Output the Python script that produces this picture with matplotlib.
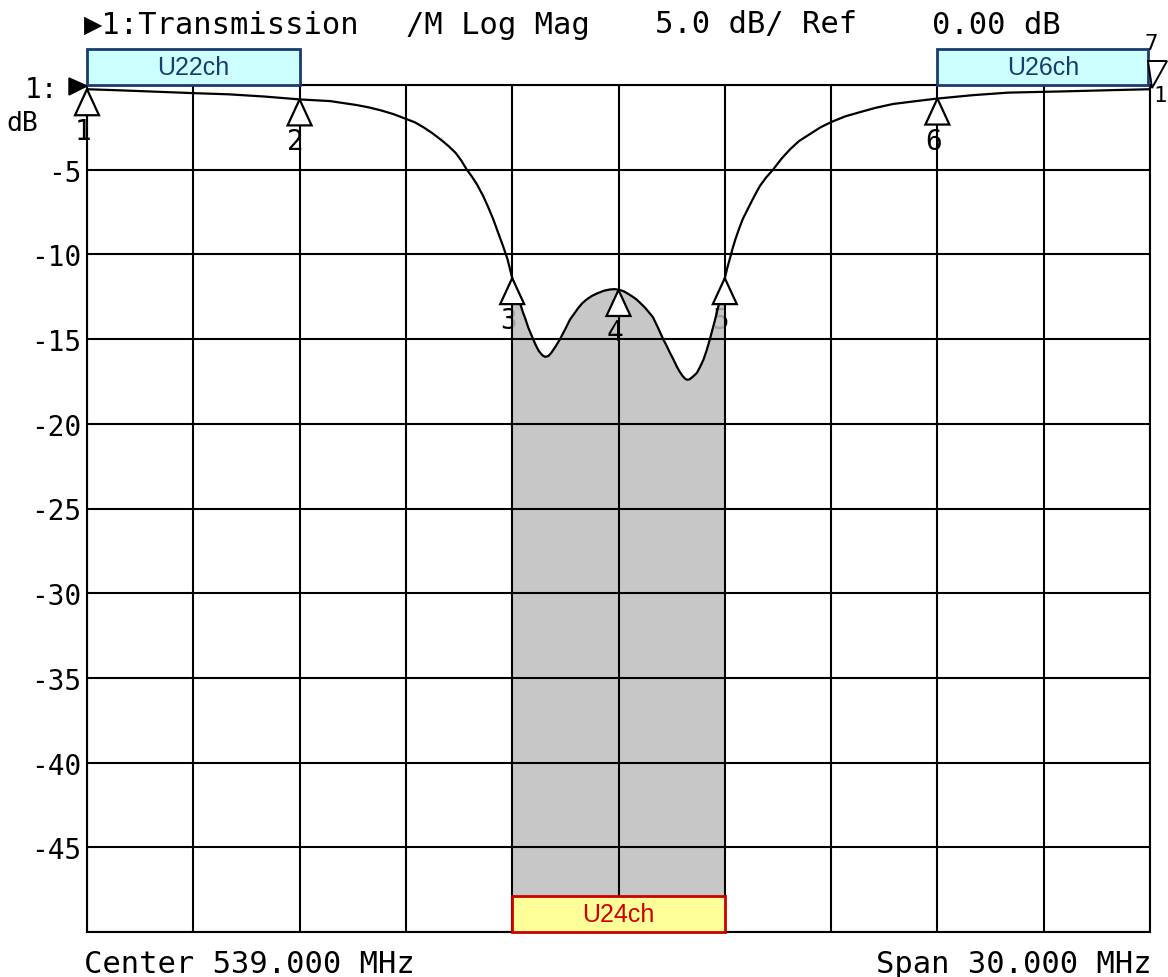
import numpy as np
import matplotlib
matplotlib.use("Agg")
import matplotlib.pyplot as plt
from matplotlib.patches import Rectangle, Polygon

# ---- data ----
freq_mhz = [524.0, 525.0, 526.0, 527.0, 528.0, 529.0, 530.0, 530.86, 531.6, 531.95,
            532.3, 532.65, 533.0, 533.25, 533.5, 533.75, 534.0, 534.2, 534.4, 534.56,
            534.72, 534.86, 535.0, 535.18, 535.32, 535.46, 535.6, 535.74, 535.87, 536.0,
            536.09, 536.17, 536.24, 536.30, 536.38, 536.45, 536.52, 536.59, 536.67, 536.75,
            536.85, 536.93, 537.02, 537.1, 537.22, 537.35, 537.5, 537.63, 537.75, 537.85,
            537.97, 538.10, 538.25, 538.4, 538.58, 538.76, 538.9, 539.04, 539.15, 539.25,
            539.38, 539.51, 539.63, 539.75, 539.86, 539.97, 540.12, 540.26, 540.36, 540.45,
            540.55, 540.64, 540.72, 540.8, 540.87, 540.93, 541.0, 541.05, 541.12, 541.21,
            541.3, 541.4, 541.49, 541.58, 541.65, 541.72, 541.79, 541.86, 541.93, 542.0,
            542.07, 542.15, 542.22, 542.3, 542.4, 542.51, 542.63, 542.75, 542.87, 542.99,
            543.17, 543.36, 543.6, 543.84, 544.1, 544.40, 544.7, 545.02, 545.4, 545.82,
            546.25, 546.75, 547.4, 548.0, 549.0, 550.0, 551.5, 553.0, 554.0]
trans_db = [-0.25, -0.32, -0.40, -0.48, -0.55, -0.68, -0.85, -0.95, -1.18, -1.32,
            -1.5, -1.72, -2.0, -2.2, -2.5, -2.85, -3.25, -3.6, -4.0, -4.45,
            -5.0, -5.4, -5.85, -6.55, -7.2, -7.9, -8.7, -9.5, -10.3, -11.4,
            -12.0, -12.55, -13.0, -13.4, -13.85, -14.3, -14.65, -15.0, -15.38, -15.7,
            -15.95, -16.05, -16.0, -15.82, -15.45, -15.0, -14.4, -13.85, -13.5, -13.2,
            -12.9, -12.66, -12.45, -12.3, -12.15, -12.07, -12.05, -12.1, -12.18, -12.3,
            -12.47, -12.66, -12.9, -13.15, -13.42, -13.7, -14.35, -15.0, -15.4, -15.8,
            -16.2, -16.6, -16.9, -17.15, -17.32, -17.4, -17.38, -17.3, -17.18, -17.0,
            -16.65, -16.2, -15.65, -15.0, -14.45, -13.9, -13.3, -12.7, -12.05, -11.4,
            -10.8, -10.2, -9.65, -9.1, -8.5, -7.9, -7.4, -6.9, -6.42, -5.96,
            -5.45, -5.0, -4.35, -3.8, -3.3, -2.9, -2.5, -2.17, -1.85, -1.6,
            -1.35, -1.12, -0.95, -0.8, -0.6, -0.45, -0.38, -0.3, -0.25]

marker_ids = ["1", "2", "3", "4", "5", "6"]
marker_freq = [524.0, 530.0, 536.0, 539.0, 542.0, 548.0]
marker_db = [-0.25, -0.85, -11.4, -12.1, -11.4, -0.8]

channels = ["U22ch", "U24ch", "U26ch"]
channel_lo = [524.0, 536.0, 548.0]
channel_hi = [530.0, 542.0, 553.95]

ytick_vals = list(range(-50, 1, 5))
ytick_labels = ["" if v in (0, -50) else str(v) for v in ytick_vals]
xtick_vals = list(range(524, 555, 3))

title_parts = ["\u25b61:Transmission", "/M Log Mag", "5.0 dB/ Ref", "0.00 dB"]
center_text = "Center 539.000 MHz"
span_text = "Span 30.000 MHz"

# ---- figure ----
W, H = 1168, 978
fig = plt.figure(figsize=(W / 100, H / 100), dpi=100)
L, R, T, B = 87, 1150, 86, 933
ax = fig.add_axes([L / W, 1 - B / H, (R - L) / W, (B - T) / H])
ax.set_xlim(524, 554)
ax.set_ylim(-50, 0)

mono = ["DejaVu Sans Mono", "DejaVu Sans"]

def fx(x):
    return x / W

def fy(y):
    return 1 - y / H

ax.set_xticks(xtick_vals)
ax.set_xticklabels([])
ax.set_yticks(ytick_vals)
ax.set_yticklabels(ytick_labels, family=mono, fontsize=20)
ax.tick_params(length=0, pad=4)
ax.grid(True, color="black", lw=1.5)
ax.set_axisbelow("line")
for s in ax.spines.values():
    s.set_linewidth(1.5)
    s.set_color("black")

f = np.array(freq_mhz)
v = np.array(trans_db)

# passband fill
m = (f >= 536.0) & (f <= 542.0)
ax.fill_between(f[m], v[m], -50, color="#bdbdbd", alpha=0.85, lw=0, zorder=1.2)

ax.plot(f, v, color="black", lw=1.6, zorder=3)

# markers
dx = 30 / (R - L)
dy = 50 / (B - T)
for mid, mf, mv in zip(marker_ids, marker_freq, marker_db):
    tri = Polygon([(mf, mv), (mf - 12 * dx, mv - 26 * dy), (mf + 12 * dx, mv - 26 * dy)],
                  closed=True, facecolor="white", edgecolor="black", lw=1.6,
                  zorder=5, clip_on=False)
    ax.add_patch(tri)
    z = 1.0 if mid in ("3", "5") else 6
    ax.annotate(mid, (mf, mv), xytext=(-4, -28), textcoords="offset pixels",
                ha="center", va="top", family=mono, fontsize=20, zorder=z,
                annotation_clip=False)

# channel boxes
xt = ax.get_xaxis_transform()
bh = 36 / (B - T)
styles = {
    "U22ch": ("#ccffff", "#1b3b6f", 1.0),
    "U26ch": ("#ccffff", "#1b3b6f", 1.0),
    "U24ch": ("#ffff99", "#cc0000", 0.0),
}
for name, lo, hi in zip(channels, channel_lo, channel_hi):
    fc, ec, y0 = styles[name]
    ax.add_patch(Rectangle((lo, y0), hi - lo, bh, transform=xt, facecolor=fc,
                           edgecolor=ec, lw=2, zorder=7, clip_on=False))
    ax.text((lo + hi) / 2, y0 + bh / 2, name, transform=xt, ha="center",
            va="center", color=ec, fontsize=18, family="Liberation Sans", zorder=8)

# header text
title_x = [84, 406, 655, 932]
for txt, x in zip(title_parts, title_x):
    fig.text(fx(x), fy(25), txt, ha="left", va="center", family=mono, fontsize=22)

fig.text(fx(84), fy(965), center_text, ha="left", va="center", family=mono, fontsize=22)
fig.text(fx(1152), fy(965), span_text, ha="right", va="center", family=mono, fontsize=22)

# reference indicator on the left
fig.patches.append(Polygon([(fx(87), fy(87)), (fx(69), fy(79)), (fx(69), fy(96))],
                           closed=True, transform=fig.transFigure,
                           facecolor="black", edgecolor="black"))
fig.text(fx(58), fy(90), "1:", ha="right", va="center", family=mono, fontsize=20)
fig.text(fx(6), fy(124), "dB", ha="left", va="center", family=mono, fontsize=19)

# marker 7 at right edge
fig.patches.append(Polygon([(fx(1148), fy(62)), (fx(1167), fy(62)), (fx(1152), fy(89))],
                           closed=True, transform=fig.transFigure,
                           facecolor="white", edgecolor="black", lw=1.4))
fig.text(fx(1151), fy(44), "7", ha="center", va="center", family=mono, fontsize=16)
fig.text(fx(1160), fy(96), "1", ha="center", va="center", family=mono, fontsize=16)

fig.savefig("out.png", dpi=100)
